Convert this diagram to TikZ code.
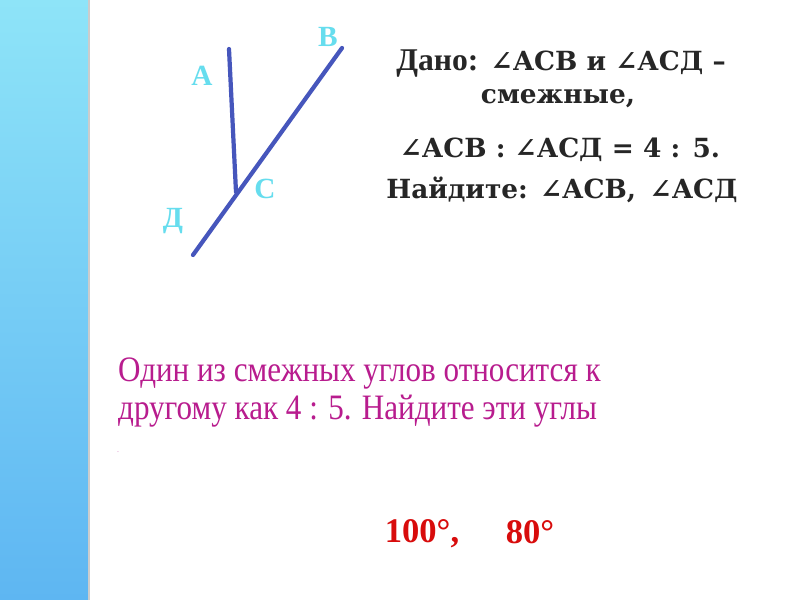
\documentclass[tikz,border=0pt]{standalone}
\usepackage{fontspec}
\setmainfont{Liberation Serif}
\newfontfamily\givenfont{DejaVu Serif}
\newfontfamily\taskfont[FakeStretch=0.87]{Liberation Serif}
\newcommand{\ang}{{\char"2220}}
\definecolor{barTop}{HTML}{8EE4F8}
\definecolor{barBot}{HTML}{5EB6F2}
\definecolor{rayBlue}{HTML}{4656BC}
\definecolor{ptCyan}{HTML}{66DDEE}
\definecolor{txtMag}{HTML}{B81C8E}
\definecolor{ansRed}{HTML}{D80C0C}
\tikzset{
  ray/.style={draw=rayBlue, line width=3.6pt},
  pt/.style={text=ptCyan, font=\fontsize{25}{25}\selectfont\bfseries, inner sep=0pt},
  given/.style={text=black!85, font=\givenfont\fontsize{22.5}{27}\selectfont\bfseries, align=center, inner sep=0pt},
  task/.style={text=txtMag, font=\taskfont\fontsize{30.5}{32.5}\selectfont, align=left, anchor=north west, inner sep=0pt},
  answer/.style={text=ansRed, font=\fontsize{29.5}{29.5}\selectfont\bfseries, inner sep=0pt}
}
\begin{document}
\begin{tikzpicture}[x=0.03cm, y=-0.03cm]
  \useasboundingbox (0,0) rectangle (800,600);
  \fill[white] (0,0) rectangle (800,600);
  \shade[top color=barTop, bottom color=barBot] (0,0) rectangle (88,600);
  \fill[black!20] (88,0) rectangle (90,600);
  % points
  \coordinate (a) at (229,49);
  \coordinate (b) at (342,48);
  \coordinate (c) at (236,192);
  \coordinate (d) at (193,255);
  \draw[ray, line cap=round] (a) -- (c);
  \draw[ray, line cap=round] (d) -- (b);
  \node[pt] (la) at (202,76) {А};
  \node[pt] (lb) at (328,37) {В};
  \node[pt] (lc) at (265,189) {С};
  \node[pt] (ld) at (173,221) {Д};
  % given
  \node[given] (g1) at (561,64) {{\rmfamily\fontsize{27}{27}\selectfont Дано:} \ang АСВ и \ang АСД –};
  \node[given] (g2) at (558,99) {смежные,};
  \node[given] (g3) at (560,150) {\ang АСВ : \ang АСД = 4 : 5.};
  \node[given] (g4) at (562,190) {Найдите: \ang АСВ,\, \ang АСД};
  % task
  \node[task] (t) at (118,358) {Один из смежных углов относится к\\другому как 4 : 5. Найдите эти углы};
  \node[text=txtMag, font=\tiny, inner sep=0pt] (dot) at (118,452) {.};
  % answer
  \node[answer] (x1) at (422,534) {100°,};
  \node[answer] (x2) at (530,532) {80°};
\end{tikzpicture}
\end{document}
